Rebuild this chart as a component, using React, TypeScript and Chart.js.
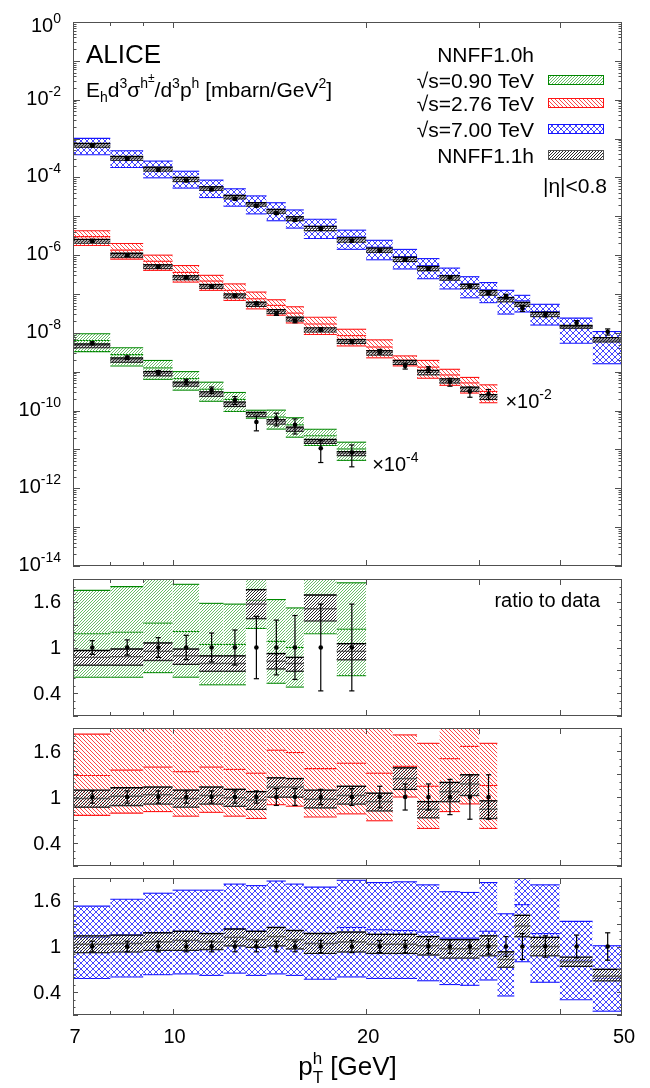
import React, { useEffect, useRef } from 'react';
import { Chart, registerables } from 'chart.js';
Chart.register(...registerables);

// ---------------- data ----------------
// bin edges (pT, GeV)
const EDGES_700 = [7, 8, 9, 10, 11, 12, 13, 14, 15, 16, 18, 20, 22, 24, 26, 28, 30, 32, 34, 36, 40, 45, 50];
const EDGES_276 = [7, 8, 9, 10, 11, 12, 13, 14, 15, 16, 18, 20, 22, 24, 26, 28, 30, 32];
const EDGES_090 = [7, 8, 9, 10, 11, 12, 13, 14, 15, 16, 18, 20];
// data point positions
const PT_700 = [7.5, 8.5, 9.5, 10.5, 11.5, 12.5, 13.5, 14.5, 15.5, 17, 19, 21, 23, 25, 27, 29, 31, 33, 35, 38, 42.5, 47.5];
const PT_276 = [7.5, 8.5, 9.5, 10.5, 11.5, 12.5, 13.5, 14.5, 15.5, 17, 19, 21, 23, 25, 27, 29, 31];
const PT_090 = [7.5, 8.5, 9.5, 10.5, 11.5, 12.5, 13.5, 14.5, 15.5, 17, 19];
// display scale factors
const SCALE_700 = 1;
const SCALE_276 = 1e-2;
const SCALE_090 = 1e-4;

// sqrt(s)=7.00 TeV
const DATA_700 = [6.6e-4, 3.0e-4, 1.55e-4, 8.3e-5, 4.9e-5, 2.8e-5, 1.86e-5, 1.2e-5, 8.0e-6, 4.7e-6, 2.35e-6, 1.31e-6, 7.6e-7, 4.5e-7, 2.7e-7, 1.63e-7, 1.07e-7, 8.7e-8, 4.3e-8, 3.0e-8, 1.8e-8, 1.07e-8];
const ERR_700 = [0.07, 0.07, 0.07, 0.07, 0.07, 0.07, 0.07, 0.07, 0.07, 0.08, 0.08, 0.08, 0.08, 0.09, 0.09, 0.09, 0.1, 0.13, 0.17, 0.14, 0.15, 0.18];
const NN10_LO_700 = [0.58, 0.6, 0.63, 0.64, 0.62, 0.65, 0.62, 0.64, 0.62, 0.57, 0.6, 0.58, 0.58, 0.55, 0.5, 0.49, 0.56, 0.35, 0.8, 0.53, 0.3, 0.15];
const NN10_MID_700 = [1.12, 1.15, 1.18, 1.2, 1.17, 1.23, 1.2, 1.25, 1.21, 1.17, 1.25, 1.22, 1.21, 1.19, 1.11, 1.11, 1.2, 0.89, 1.55, 1.17, 0.82, 0.58];
const NN10_HI_700 = [1.53, 1.62, 1.7, 1.74, 1.74, 1.82, 1.8, 1.86, 1.82, 1.78, 1.87, 1.84, 1.85, 1.81, 1.72, 1.71, 1.84, 1.43, 2.15, 1.81, 1.33, 1.01];
const NN11_LO_700 = [0.92, 0.93, 0.95, 0.95, 0.96, 1.01, 0.99, 1.01, 0.97, 0.91, 0.93, 0.91, 0.91, 0.89, 0.85, 0.85, 0.88, 0.73, 1.13, 0.88, 0.74, 0.55];
const NN11_MID_700 = [1.03, 1.04, 1.06, 1.08, 1.06, 1.12, 1.09, 1.13, 1.09, 1.04, 1.06, 1.03, 1.03, 1.01, 0.97, 0.97, 1.01, 0.83, 1.27, 1.0, 0.8, 0.61];
const NN11_HI_700 = [1.14, 1.15, 1.18, 1.2, 1.17, 1.23, 1.2, 1.25, 1.21, 1.17, 1.19, 1.16, 1.16, 1.13, 1.09, 1.09, 1.14, 0.93, 1.41, 1.12, 0.86, 0.7];

// sqrt(s)=2.76 TeV
const DATA_276 = [2.34e-4, 1.0e-4, 5.0e-5, 2.7e-5, 1.55e-5, 9.1e-6, 5.75e-6, 3.16e-6, 2.04e-6, 1.23e-6, 5.9e-7, 3.3e-7, 1.41e-7, 1.15e-7, 5.5e-8, 3.1e-8, 2.7e-8];
const ERR_276 = [0.08, 0.08, 0.08, 0.08, 0.08, 0.08, 0.08, 0.11, 0.11, 0.1, 0.11, 0.14, 0.17, 0.17, 0.23, 0.29, 0.29];
const NN10_LO_276 = [0.76, 0.79, 0.81, 0.75, 0.8, 0.75, 0.72, 0.9, 0.88, 0.74, 0.78, 0.69, 1.0, 0.59, 0.81, 0.91, 0.59];
const NN10_MID_276 = [1.28, 1.35, 1.39, 1.33, 1.39, 1.36, 1.31, 1.61, 1.58, 1.37, 1.44, 1.31, 1.4, 1.14, 1.5, 1.66, 1.15];
const NN10_HI_276 = [1.82, 2.0, 2.0, 2.0, 1.95, 2.0, 1.95, 2.25, 2.3, 2.05, 2.1, 2.0, 1.81, 1.7, 2.1, 2.3, 1.7];
const NN11_LO_276 = [0.87, 0.89, 0.91, 0.87, 0.91, 0.88, 0.84, 1.0, 1.0, 0.86, 0.91, 0.82, 1.1, 0.73, 0.94, 1.02, 0.72];
const NN11_MID_276 = [0.98, 1.01, 1.03, 0.98, 1.02, 0.99, 0.96, 1.13, 1.13, 0.97, 1.02, 0.94, 1.24, 0.84, 1.07, 1.17, 0.84];
const NN11_HI_276 = [1.09, 1.12, 1.13, 1.09, 1.13, 1.1, 1.07, 1.25, 1.24, 1.09, 1.14, 1.05, 1.38, 0.94, 1.19, 1.29, 0.95];

// sqrt(s)=0.90 TeV
const DATA_090 = [5.4e-5, 2.3e-5, 9.5e-6, 5.5e-6, 3.4e-6, 1.86e-6, 5.1e-7, 6.3e-7, 4.3e-7, 1.07e-7, 8.3e-8];
const ERR_090 = [0.09, 0.1, 0.13, 0.16, 0.19, 0.23, 0.41, 0.36, 0.42, 0.57, 0.57];
const NN10_LO_090 = [0.61, 0.61, 0.67, 0.61, 0.51, 0.51, 1.25, 0.53, 0.48, 1.18, 0.63];
const NN10_MID_090 = [1.18, 1.2, 1.32, 1.21, 1.04, 1.04, 1.62, 1.08, 1.0, 2.1, 1.24];
const NN10_HI_090 = [1.75, 1.8, 2.05, 1.83, 1.58, 1.57, 2.0, 1.63, 1.52, 3.1, 1.85];
const NN11_LO_090 = [0.77, 0.77, 0.83, 0.78, 0.69, 0.69, 1.38, 0.72, 0.69, 1.35, 0.84];
const NN11_MID_090 = [0.87, 0.88, 0.95, 0.89, 0.79, 0.79, 1.57, 0.82, 0.79, 1.51, 0.95];
const NN11_HI_090 = [0.96, 0.98, 1.06, 0.98, 0.89, 0.89, 1.76, 0.92, 0.87, 1.69, 1.05];

// axes / tick labels
const X_MIN = 7;
const X_MAX = 50;
const X_TICKS_MAJOR = [10, 20, 30, 40];
const X_TICKS_MINOR = [8, 9];
const X_TICK_LABELS = [7, 10, 20, 50];
const Y_MAIN_MIN_EXP = -14;
const Y_MAIN_MAX_EXP = 0;
const Y_MAIN_LABEL_EXPS = [0, -2, -4, -6, -8, -10, -12, -14];
const RATIO_MIN = 0.1;
const RATIO_MAX = 1.9;
const RATIO_TICKS_MAJOR = [0.1, 0.4, 0.7, 1.0, 1.3, 1.6, 1.9];
const RATIO_TICK_LABELS = ['0.4', '1', '1.6'];

// ---------------- layout & style ----------------
const W = 650;
const H = 1088;
const PLOT_LEFT = 73;
const PLOT_RIGHT = 622;
const PANELS = [
  { top: 22, bottom: 566 },
  { top: 579, bottom: 716 },
  { top: 728, bottom: 866 },
  { top: 878, bottom: 1015 },
];
const FONT = '"Liberation Sans", Arial, Helvetica, sans-serif';
const AXIS_COLOR = '#505050';
const GREEN = 'rgb(0,135,0)';
const RED = 'rgb(255,20,20)';
const BLUE = 'rgb(20,20,255)';

type Part = { t?: string; size: number; dy?: number; sup?: string; sub?: string };

function partWidth(ctx: CanvasRenderingContext2D, p: Part) {
  ctx.font = `${p.size}px ${FONT}`;
  if (p.sup !== undefined || p.sub !== undefined) {
    return Math.max(ctx.measureText(p.sup || '').width, ctx.measureText(p.sub || '').width);
  }
  return ctx.measureText(p.t || '').width;
}

function drawRich(ctx: CanvasRenderingContext2D, parts: Part[], x: number, y: number, align: 'left' | 'right' | 'center') {
  const widths = parts.map((p) => partWidth(ctx, p));
  const total = widths.reduce((a, b) => a + b, 0);
  let cx = align === 'right' ? x - total : align === 'center' ? x - total / 2 : x;
  ctx.textAlign = 'left';
  ctx.textBaseline = 'alphabetic';
  parts.forEach((p, i) => {
    ctx.font = `${p.size}px ${FONT}`;
    if (p.sup !== undefined || p.sub !== undefined) {
      if (p.sup) ctx.fillText(p.sup, cx, y - p.size * 0.62);
      if (p.sub) ctx.fillText(p.sub, cx, y + p.size * 0.47);
    } else {
      ctx.fillText(p.t || '', cx, y + (p.dy || 0));
    }
    cx += widths[i];
  });
}

type Tiles = { green: HTMLCanvasElement; red: HTMLCanvasElement; blue: HTMLCanvasElement; black: HTMLCanvasElement };

// pixel-exact hatch tiles
function makeTile(kind: 'fwd' | 'back' | 'cross', color: string, size: number, bg?: string) {
  const c = document.createElement('canvas');
  c.width = size;
  c.height = size;
  const g = c.getContext('2d')!;
  if (bg) {
    g.fillStyle = bg;
    g.fillRect(0, 0, size, size);
  }
  g.fillStyle = color;
  for (let i = 0; i < size; i++) {
    if (kind === 'fwd' || kind === 'cross') g.fillRect(i, size - 1 - i, 1, 1);
    if (kind === 'back' || kind === 'cross') g.fillRect(i, i, 1, 1);
  }
  return c;
}

function bandSets(edges: number[], ref: number[], lo: number[], mid: number[], hi: number[], fill: any, color: string, lw: number, order: number) {
  const out: any[] = [];
  for (let i = 0; i < edges.length - 1; i++) {
    const seg = (v: number) => [
      { x: edges[i], y: ref[i] * v },
      { x: edges[i + 1], y: ref[i] * v },
    ];
    const common = { borderColor: color, borderWidth: lw, pointRadius: 0, order, clip: 0, tension: 0 };
    out.push({ ...common, data: seg(hi[i]), fill: '+1', backgroundColor: fill });
    out.push({ ...common, data: seg(lo[i]), fill: false });
    out.push({ ...common, data: seg(mid[i]), fill: false });
  }
  return out;
}

function errSets(pt: number[], ref: number[], err: number[]) {
  return pt.map((x, i) => ({
    data: [
      { x, y: ref[i] * (1 - err[i]) },
      { x, y: ref[i] * (1 + err[i]) },
    ],
    borderColor: '#000',
    borderWidth: 1.2,
    pointStyle: 'line',
    pointRadius: 2.6,
    pointBorderWidth: 1.2,
    pointBorderColor: '#000',
    pointBackgroundColor: '#000',
    fill: false,
    order: 1,
    clip: 0,
  }));
}

function pointSet(pt: number[], ref: number[]) {
  return {
    data: pt.map((x, i) => ({ x, y: ref[i] })),
    showLine: false,
    pointRadius: 2.3,
    pointBorderWidth: 0,
    pointBackgroundColor: '#000',
    pointBorderColor: '#000',
    order: 0,
    fill: false,
  };
}

type Series = {
  edges: number[]; pt: number[]; data: number[]; err: number[]; scale: number;
  lo10: number[]; mid10: number[]; hi10: number[]; lo11: number[]; mid11: number[]; hi11: number[];
  color: string; tile: keyof Tiles;
};

const S090: Series = { edges: EDGES_090, pt: PT_090, data: DATA_090, err: ERR_090, scale: SCALE_090, lo10: NN10_LO_090, mid10: NN10_MID_090, hi10: NN10_HI_090, lo11: NN11_LO_090, mid11: NN11_MID_090, hi11: NN11_HI_090, color: GREEN, tile: 'green' };
const S276: Series = { edges: EDGES_276, pt: PT_276, data: DATA_276, err: ERR_276, scale: SCALE_276, lo10: NN10_LO_276, mid10: NN10_MID_276, hi10: NN10_HI_276, lo11: NN11_LO_276, mid11: NN11_MID_276, hi11: NN11_HI_276, color: RED, tile: 'red' };
const S700: Series = { edges: EDGES_700, pt: PT_700, data: DATA_700, err: ERR_700, scale: SCALE_700, lo10: NN10_LO_700, mid10: NN10_MID_700, hi10: NN10_HI_700, lo11: NN11_LO_700, mid11: NN11_MID_700, hi11: NN11_HI_700, color: BLUE, tile: 'blue' };

function seriesSets(s: Series, ratio: boolean, pats: Record<string, any>) {
  const ref = ratio ? s.data.map(() => 1) : s.data.map((v) => v * s.scale);
  return [
    ...bandSets(s.edges, ref, s.lo10, s.mid10, s.hi10, pats[s.tile], s.color, 1.1, 3),
    ...bandSets(s.edges, ref, s.lo11, s.mid11, s.hi11, pats.black, '#000', 1.4, 2),
    ...errSets(s.pt, ref, s.err),
    pointSet(s.pt, ref),
  ];
}

function decorPlugin(kind: number, pats: Record<string, any>) {
  return {
    id: 'decor' + kind,
    afterDraw(chart: any) {
      const ctx: CanvasRenderingContext2D = chart.ctx;
      const a = chart.chartArea;
      const xs = chart.scales.x;
      const ys = chart.scales.y;
      ctx.save();
      ctx.strokeStyle = AXIS_COLOR;
      ctx.lineWidth = 1;
      const line = (x0: number, y0: number, x1: number, y1: number) => {
        ctx.beginPath();
        ctx.moveTo(x0, y0);
        ctx.lineTo(x1, y1);
        ctx.stroke();
      };
      // x ticks (inward, top and bottom)
      const xt = (v: number, len: number) => {
        const x = Math.round(xs.getPixelForValue(v)) + 0.5;
        line(x, a.bottom, x, a.bottom - len);
        line(x, a.top, x, a.top + len);
      };
      X_TICKS_MAJOR.forEach((v) => xt(v, 6));
      X_TICKS_MINOR.forEach((v) => xt(v, 4));
      // y ticks
      const yt = (v: number, len: number) => {
        const y = Math.round(ys.getPixelForValue(v)) + 0.5;
        line(a.left, y, a.left + len, y);
        line(a.right, y, a.right - len, y);
      };
      if (kind === 0) {
        for (let e = Y_MAIN_MIN_EXP; e <= Y_MAIN_MAX_EXP; e++) {
          yt(Math.pow(10, e), 7);
          if (e < Y_MAIN_MAX_EXP) for (let k = 2; k <= 9; k++) yt(k * Math.pow(10, e), 3.5);
        }
      } else {
        RATIO_TICKS_MAJOR.forEach((v) => yt(v, 5));
        for (let v = RATIO_MIN; v < RATIO_MAX - 0.01; v += 0.1) yt(v, 2.5);
      }
      // frame
      ctx.strokeRect(a.left + 0.5, a.top + 0.5, a.right - a.left - 1, a.bottom - a.top - 1);

      ctx.fillStyle = '#000';
      if (kind === 0) {
        Y_MAIN_LABEL_EXPS.forEach((e) => {
          const y = ys.getPixelForValue(Math.pow(10, e));
          const base = Math.max(y + 5, a.top + 10);
          drawRich(ctx, [{ t: '10', size: 20 }, { t: String(e), size: 14, dy: -9 }], a.left - 12, base, 'right');
        });
        // title texts
        drawRich(ctx, [{ t: 'ALICE', size: 26 }], a.left + 13, a.top + 41, 'left');
        drawRich(
          ctx,
          [
            { t: 'E', size: 21 }, { t: 'h', size: 14, dy: 5 },
            { t: 'd', size: 21 }, { t: '3', size: 14, dy: -9 },
            { t: 'σ', size: 21 }, { t: 'h', size: 14, dy: -9 }, { t: '±', size: 12, dy: -15 },
            { t: '/d', size: 21 }, { t: '3', size: 14, dy: -9 },
            { t: 'p', size: 21 }, { t: 'h', size: 14, dy: -9 },
            { t: ' [mbarn/GeV', size: 21 }, { t: '2', size: 14, dy: -9 }, { t: ']', size: 21 },
          ],
          a.left + 13,
          a.top + 75,
          'left'
        );
        // legend
        const tx = a.right - 88;
        const sx = a.right - 74;
        const sw = 56;
        drawRich(ctx, [{ t: 'NNFF1.0h', size: 21 }], tx, a.top + 40, 'right');
        const rows: [string, any, string, number][] = [
          ['√s=0.90 TeV', pats.green, GREEN, 66],
          ['√s=2.76 TeV', pats.red, RED, 89],
          ['√s=7.00 TeV', pats.blue, BLUE, 115],
          ['NNFF1.1h', pats.black, '#555', 141],
        ];
        rows.forEach(([label, pat, col, dy]) => {
          drawRich(ctx, [{ t: label, size: 21 }], tx, a.top + dy, 'right');
          ctx.fillStyle = pat;
          ctx.fillRect(sx, a.top + dy - 13, sw, 10);
          ctx.strokeStyle = col;
          ctx.lineWidth = 1;
          ctx.strokeRect(sx + 0.5, a.top + dy - 12.5, sw - 1, 9);
          ctx.fillStyle = '#000';
        });
        drawRich(ctx, [{ t: '|η|<0.8', size: 21 }], a.right - 15, a.top + 171, 'right');
        // scale annotations
        const lr = S276.edges.length - 1;
        const xr = xs.getPixelForValue(S276.edges[lr]) + 8;
        const yr = ys.getPixelForValue(S276.data[lr - 1] * S276.scale) + 14;
        drawRich(ctx, [{ t: '×10', size: 20 }, { t: '-2', size: 14, dy: -9 }], xr, yr, 'left');
        const lg = S090.edges.length - 1;
        const xg = xs.getPixelForValue(S090.edges[lg]) + 6;
        const yg = ys.getPixelForValue(S090.data[lg - 1] * S090.scale) + 18;
        drawRich(ctx, [{ t: '×10', size: 20 }, { t: '-4', size: 14, dy: -9 }], xg, yg, 'left');
      } else {
        ctx.font = `20px ${FONT}`;
        ctx.textAlign = 'right';
        ctx.textBaseline = 'middle';
        RATIO_TICK_LABELS.forEach((lab) => {
          ctx.fillText(lab, a.left - 12, ys.getPixelForValue(parseFloat(lab)) + 1);
        });
        if (kind === 1) {
          drawRich(ctx, [{ t: 'ratio to data', size: 20 }], a.right - 22, a.top + 28, 'right');
        }
        if (kind === 3) {
          ctx.font = `20px ${FONT}`;
          ctx.textAlign = 'center';
          ctx.textBaseline = 'alphabetic';
          X_TICK_LABELS.forEach((v) => {
            ctx.fillText(String(v), xs.getPixelForValue(v) + 2, a.bottom + 28);
          });
          drawRich(
            ctx,
            [{ t: 'p', size: 26 }, { sup: 'h', sub: 'T', size: 17 }, { t: ' [GeV]', size: 26 }],
            (a.left + a.right) / 2,
            a.bottom + 60,
            'center'
          );
        }
      }
      ctx.restore();
    },
  };
}

export default function App() {
  const r0 = useRef<HTMLCanvasElement>(null);
  const r1 = useRef<HTMLCanvasElement>(null);
  const r2 = useRef<HTMLCanvasElement>(null);
  const r3 = useRef<HTMLCanvasElement>(null);
  const refs = [r0, r1, r2, r3];

  useEffect(() => {
    const tiles: Tiles = {
      green: makeTile('fwd', 'rgb(105,188,105)', 3),
      red: makeTile('back', 'rgb(255,70,70)', 4),
      blue: makeTile('cross', 'rgb(70,70,255)', 6),
      black: makeTile('fwd', 'rgb(40,40,40)', 3, 'rgba(255,255,255,0.45)'),
    };
    const charts: Chart[] = [];
    const panelSeries: Series[][] = [[S090, S276, S700], [S090], [S276], [S700]];
    refs.forEach((r, idx) => {
      const canvas = r.current!;
      const ctx = canvas.getContext('2d')!;
      const pats: Record<string, any> = {
        green: ctx.createPattern(tiles.green, 'repeat'),
        red: ctx.createPattern(tiles.red, 'repeat'),
        blue: ctx.createPattern(tiles.blue, 'repeat'),
        black: ctx.createPattern(tiles.black, 'repeat'),
      };
      const datasets = panelSeries[idx].flatMap((s) => seriesSets(s, idx > 0, pats));
      const p = PANELS[idx];
      const yScale =
        idx === 0
          ? { type: 'logarithmic', min: Math.pow(10, Y_MAIN_MIN_EXP), max: Math.pow(10, Y_MAIN_MAX_EXP), display: false }
          : { type: 'linear', min: RATIO_MIN, max: RATIO_MAX, display: false };
      const chart = new Chart(canvas, {
        type: 'line',
        data: { datasets },
        options: {
          animation: false,
          responsive: false,
          events: [],
          layout: { padding: { left: PLOT_LEFT, right: W - PLOT_RIGHT, top: p.top, bottom: H - p.bottom } },
          plugins: { legend: { display: false }, tooltip: { enabled: false }, filler: { propagate: false } },
          scales: {
            x: { type: 'logarithmic', min: X_MIN, max: X_MAX, display: false },
            y: yScale as any,
          },
        },
        plugins: [decorPlugin(idx, pats)],
      } as any);
      charts.push(chart);
    });
    return () => charts.forEach((c) => c.destroy());
  }, []);

  return (
    <div style={{ position: 'absolute', left: 0, top: 0, width: W, height: H, background: '#fff' }}>
      {refs.map((r, i) => (
        <canvas key={i} ref={r} width={W} height={H} style={{ position: 'absolute', left: 0, top: 0, width: W, height: H }} />
      ))}
    </div>
  );
}
